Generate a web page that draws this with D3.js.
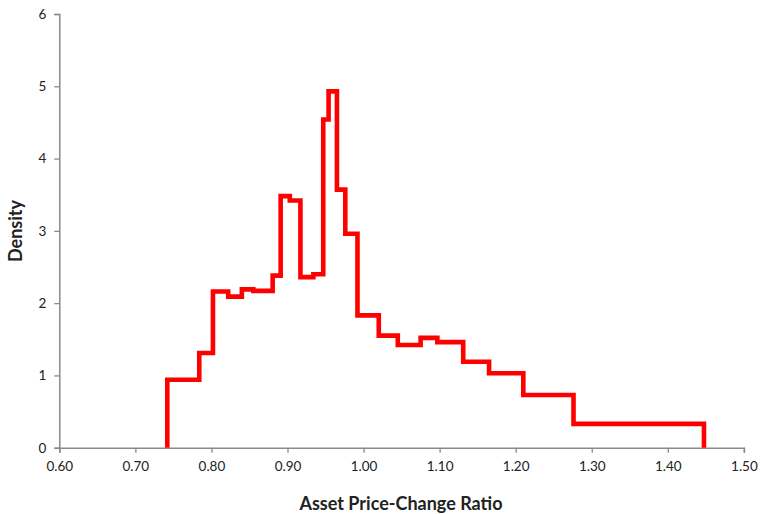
<!DOCTYPE html>
<html><head><meta charset="utf-8">
<script src="https://cdn.jsdelivr.net/npm/d3@7"></script>
<style>body{margin:0;background:#fff}svg text{font-family:Lato,"Open Sans",sans-serif}</style>
</head><body>
<svg id="c" width="761" height="514"></svg>
<script>
const binEdges = [0.742,0.784,0.802,0.822,0.840,0.855,0.8805,0.891,0.903,0.917,0.934,0.947,0.954,0.965,0.976,0.992,1.020,1.045,1.075,1.097,1.131,1.165,1.210,1.276,1.4475];
const density = [0.94,1.31,2.16,2.09,2.19,2.17,2.38,3.48,3.42,2.36,2.40,4.54,4.93,3.57,2.96,1.83,1.55,1.42,1.52,1.46,1.19,1.03,0.73,0.33];
const xTicks = [0.6,0.7,0.8,0.9,1.0,1.1,1.2,1.3,1.4,1.5];
const yTicks = [0,1,2,3,4,5,6];

const svg = d3.select("#c");
const x = d3.scaleLinear().domain([0.6,1.5]).range([59.3,743.9]);
const y = d3.scaleLinear().domain([0,6]).range([447.7,14]);
const axisColor = "#898989";

const pts = [[binEdges[0],0]];
density.forEach((d,i)=>{pts.push([binEdges[i],d]);pts.push([binEdges[i+1],d]);});
pts.push([binEdges[binEdges.length-1],0]);

const gy = svg.append("g").attr("transform","translate(59.3,0)")
  .call(d3.axisLeft(y).tickValues(yTicks).tickSize(5).tickPadding(8).tickFormat(d3.format("d")));
const gx = svg.append("g").attr("transform","translate(0,447.7)")
  .call(d3.axisBottom(x).tickValues(xTicks).tickSize(5).tickPadding(9).tickFormat(d3.format(".2f")));
[gx,gy].forEach(g=>{
  g.select(".domain").attr("stroke",axisColor).attr("stroke-width",1.5);
  g.selectAll(".tick line").attr("stroke",axisColor).attr("stroke-width",1.3);
  g.selectAll(".tick text").attr("fill","#222").style("font-size","13.5px");
});

svg.append("path").datum(pts)
  .attr("d",d3.line().x(d=>x(d[0])).y(d=>y(d[1])))
  .attr("fill","none").attr("stroke","#ff0000").attr("stroke-width",4.6)
  .attr("stroke-linejoin","miter");

svg.append("text").attr("x",401).attr("y",510).attr("text-anchor","middle")
  .style("font-size","18px").style("font-weight","bold").attr("fill","#222")
  .text("Asset Price-Change Ratio");
svg.append("text").attr("transform","translate(22,231) rotate(-90)").attr("text-anchor","middle")
  .style("font-size","18px").style("font-weight","bold").attr("fill","#222")
  .text("Density");
</script>
</body></html>
